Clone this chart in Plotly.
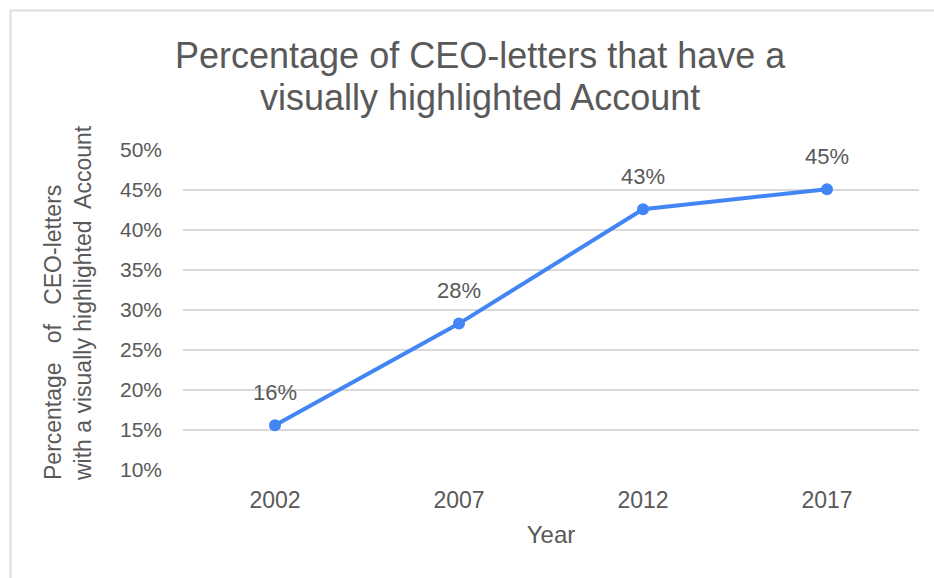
import plotly.graph_objects as go

# Share of CEO letters with a visually highlighted account, by year
years = ["2002", "2007", "2012", "2017"]
share = [0.156, 0.283, 0.426, 0.451]
y_ticks = [0.10, 0.15, 0.20, 0.25, 0.30, 0.35, 0.40, 0.45, 0.50]
title_lines = ["Percentage of CEO-letters that have a", "visually highlighted Account"]

W, H = 934, 578
ML, MR, MT, MB = 183, 15, 150, 108
FONT = "Arial, Liberation Sans, sans-serif"
TXT = "#595959"
BLUE = "#4285F4"

pw = W - ML - MR
ph = H - MT - MB


def px_to_paper_x(px):
    return (px - ML) / pw


def px_to_paper_y(py):
    return (H - MB - py) / ph


fig = go.Figure()
fig.add_trace(go.Scatter(
    x=years, y=share, mode="lines+markers",
    line=dict(color=BLUE, width=4),
    marker=dict(color=BLUE, size=12),
    hoverinfo="skip", showlegend=False,
))

annotations = []
# value labels above each point (category axis: position by index)
for i, v in enumerate(share):
    annotations.append(dict(
        x=i, y=v, xref="x", yref="y", text=f"{v:.0%}",
        showarrow=False, yshift=33, font=dict(family=FONT, size=22, color=TXT),
    ))

# two-line chart title
for line, cy in zip(title_lines, [55, 97]):
    annotations.append(dict(
        x=px_to_paper_x(480), y=px_to_paper_y(cy), xref="paper", yref="paper",
        text=line, showarrow=False, xanchor="center", yanchor="middle",
        font=dict(family=FONT, size=36, color=TXT),
    ))

# rotated two-line y-axis title, both lines starting at the bottom
annotations.append(dict(
    x=px_to_paper_x(68), y=px_to_paper_y(303), xref="paper", yref="paper",
    text="Percentage   of   CEO-letters<br>with a visually highlighted  Account",
    textangle=-90, showarrow=False, xanchor="center", yanchor="middle", align="left",
    font=dict(family=FONT, size=23, color=TXT),
))

# light frame along the top and left edges
frame = "#dddddd"
shapes = [
    dict(type="line", xref="paper", yref="paper",
         x0=px_to_paper_x(10), x1=px_to_paper_x(W), y0=px_to_paper_y(10.5), y1=px_to_paper_y(10.5),
         line=dict(color=frame, width=2)),
    dict(type="line", xref="paper", yref="paper",
         x0=px_to_paper_x(10.5), x1=px_to_paper_x(10.5), y0=px_to_paper_y(10), y1=px_to_paper_y(H),
         line=dict(color=frame, width=2)),
]

fig.update_layout(
    width=W, height=H,
    margin=dict(l=ML, r=MR, t=MT, b=MB),
    paper_bgcolor="white", plot_bgcolor="white",
    font=dict(family=FONT, color=TXT),
    xaxis=dict(
        type="category", range=[-0.5, 3.5], showgrid=False, zeroline=False, showline=False,
        ticks="", ticklabelstandoff=14,
        tickfont=dict(family=FONT, size=23, color=TXT),
        title=dict(text="Year", standoff=14, font=dict(family=FONT, size=24, color=TXT)),
        fixedrange=True,
    ),
    yaxis=dict(
        range=[0.10, 0.50], tickvals=y_ticks, tickformat=".0%",
        showgrid=True, gridcolor="#d9d9d9", gridwidth=1.5,
        zeroline=False, showline=False, ticks="", ticklabelstandoff=20,
        tickfont=dict(family=FONT, size=21, color=TXT),
        fixedrange=True,
    ),
    annotations=annotations,
    shapes=shapes,
)

fig.write_html("out.html")
